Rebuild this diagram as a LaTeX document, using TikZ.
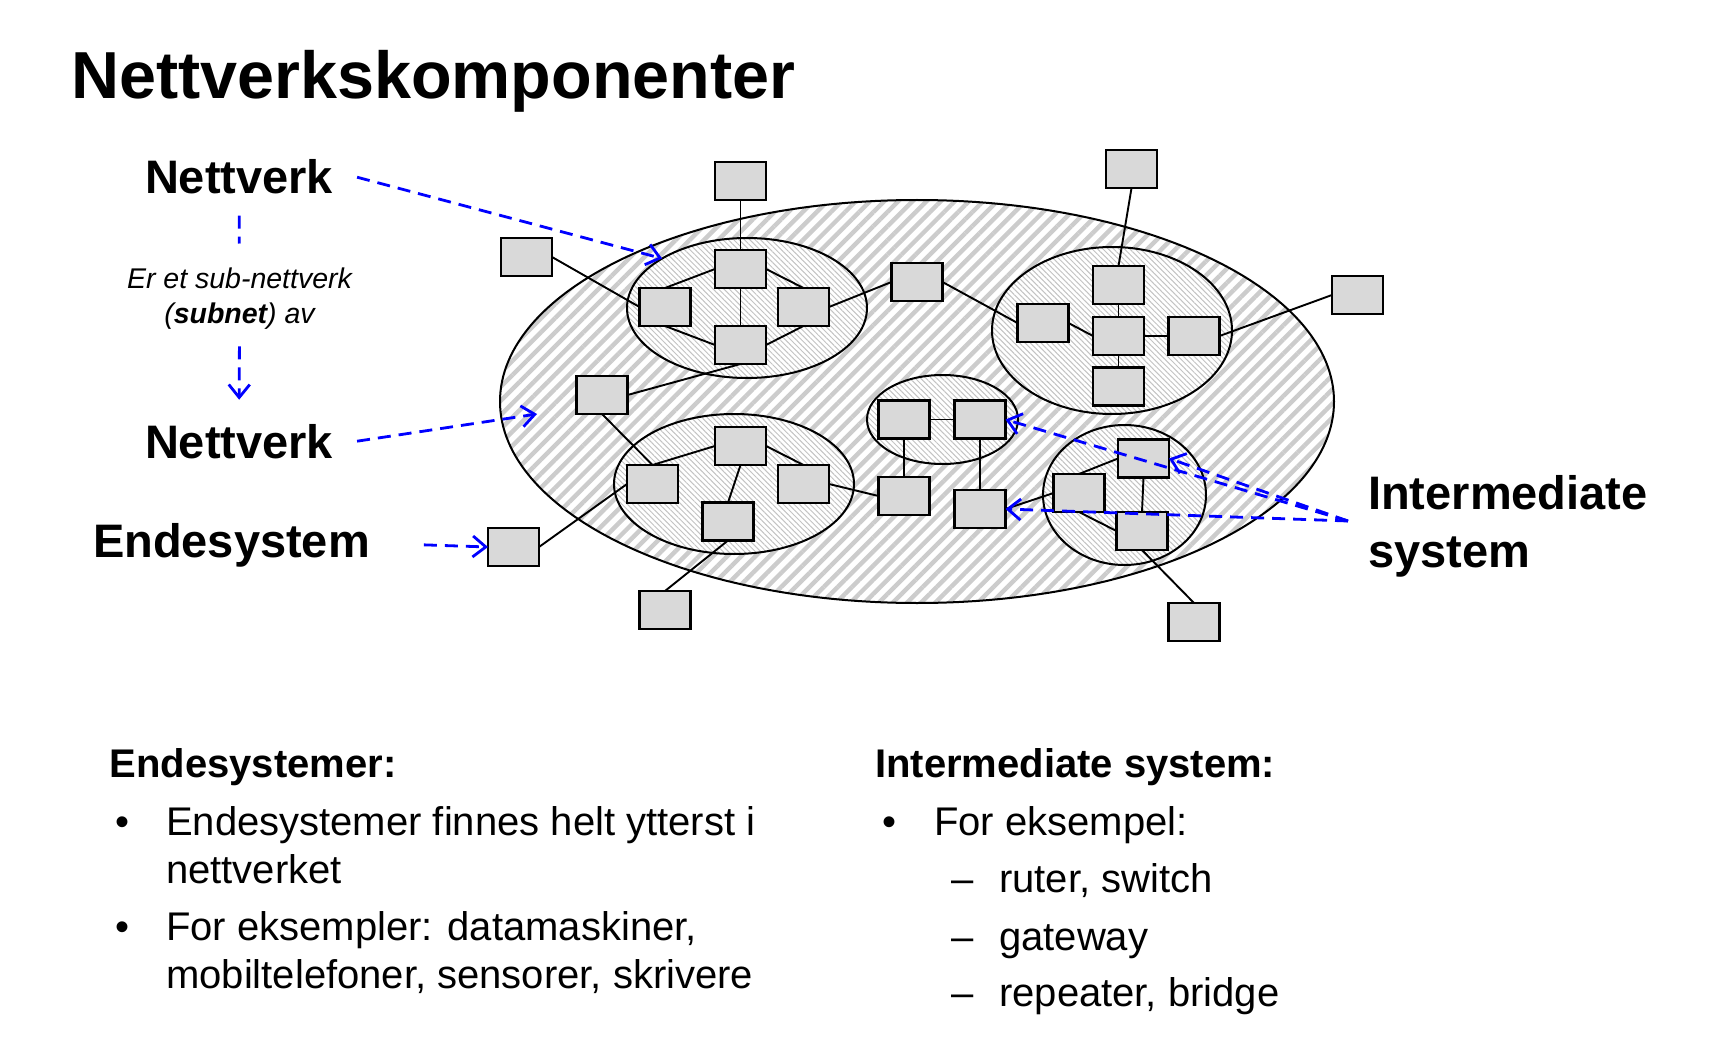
\documentclass[tikz,border=0pt]{standalone}
\usepackage{fontspec}
\setmainfont{Liberation Sans}
\usetikzlibrary{arrows.meta,patterns.meta,shapes.geometric}
\pgfdeclarelayer{ellip}
\pgfdeclarelayer{wires}
\pgfsetlayers{ellip,wires,main}
\definecolor{boxgray}{RGB}{217,217,217}
\definecolor{hatchgray}{RGB}{204,204,204}
\definecolor{finegray}{RGB}{195,195,195}
\definecolor{arrblue}{RGB}{0,0,255}
\begin{document}
\begin{tikzpicture}[x=1pt,y=-1pt,
  dev/.style={draw=black, line width=2.2pt, fill=boxgray, minimum width=51pt, minimum height=38pt, inner sep=0pt, outer sep=0pt},
  wire/.style={draw=black, line width=1.9pt},
  outernet/.style={ellipse, draw=black, line width=2pt, inner sep=0pt, outer sep=0pt, preaction={fill=white}, pattern={Lines[angle=45,distance=10pt,line width=4.4pt]}, pattern color=hatchgray},
  subnet/.style={ellipse, draw=black, line width=2pt, inner sep=0pt, outer sep=0pt, preaction={fill=white}, pattern={Lines[angle=-45,distance=3.8pt,line width=1pt]}, pattern color=finegray},
  bluedash/.style={draw=arrblue, line width=2.8pt, dash pattern=on 13pt off 8pt},
  bluearrow/.style={bluedash, -{Straight Barb[length=13pt,width=21pt]}},
  biglabel/.style={font=\fontsize{47}{58}\selectfont\bfseries, inner sep=0pt},
  body/.style={font=\fontsize{40}{48}\selectfont, anchor=base west, inner sep=0pt},
  head/.style={body, font=\fontsize{40}{48}\selectfont\bfseries}
]
\useasboundingbox (0,0) rectangle (1717,1043);

% ---------- title and labels ----------
\node[anchor=base west, font=\fontsize{66.5}{80}\selectfont\bfseries, inner sep=0pt] (title) at (71,98.5) {Nettverkskomponenter};
\node[biglabel, anchor=base west, outer xsep=24pt] (nt1) at (121,194) {Nettverk};
\node[biglabel, anchor=base west, outer xsep=24pt] (nt2) at (121,458) {Nettverk};
\node[biglabel, anchor=base west, outer xsep=54pt] (endl) at (39,557) {Endesystem};
\node[anchor=north, align=center, inner sep=0pt, font=\fontsize{28.5}{35}\selectfont\itshape] (er) at (239.5,267.5) {Er et sub-nettverk\\(\textbf{subnet}) av};
\node[biglabel, anchor=north west, align=left] (isl) at (1368,475.5) {Intermediate\\system};
\coordinate (isorig) at (1348,521);
\coordinate (tipnet) at (537,414);

% ---------- ellipses ----------
\begin{pgfonlayer}{ellip}
\fill[white] (0,0) rectangle (1717,1043);
\node[outernet, minimum width=834pt, minimum height=403pt] (net) at (917,401.5) {};
\node[subnet, minimum width=240pt, minimum height=140pt] (sn1) at (747,308) {};
\node[subnet, minimum width=240pt, minimum height=167pt] (sn2) at (1112,330.5) {};
\node[subnet, minimum width=240pt, minimum height=140pt] (sn3) at (734,484) {};
\node[subnet, minimum width=151pt, minimum height=89pt] (sn4) at (942.5,419.5) {};
\node[subnet, minimum width=163pt, minimum height=140pt] (sn5) at (1124.5,495) {};
\end{pgfonlayer}

% ---------- devices ----------
\node[dev] (a1) at (740.5,181) {};
\node[dev] (a2) at (526.5,257) {};
\node[dev] (s1t) at (740.5,269) {};
\node[dev] (s1l) at (665,307) {};
\node[dev] (s1r) at (803.5,307) {};
\node[dev] (s1b) at (740.5,345) {};
\node[dev] (m1) at (917,282) {};
\node[dev] (m2) at (602,395) {};

\node[dev] (b1) at (1131.5,169) {};
\node[dev] (b2) at (1357.5,295) {};
\node[dev] (s2t) at (1118.5,285) {};
\node[dev] (s2l) at (1043,323) {};
\node[dev] (s2m) at (1118.5,336) {};
\node[dev] (s2r) at (1194,336) {};
\node[dev] (s2b) at (1118.5,386.5) {};

\node[dev] (s3t) at (740.5,446) {};
\node[dev] (s3l) at (652.5,484) {};
\node[dev] (s3r) at (803.5,484) {};
\node[dev] (s3b) at (728,521.5) {};
\node[dev] (es) at (513.5,547) {};
\node[dev] (c1) at (665,610) {};

\node[dev] (s4l) at (904,419.5) {};
\node[dev] (s4r) at (980,419.5) {};
\node[dev] (d1) at (904,496) {};
\node[dev] (d2) at (980,509) {};

\node[dev] (s5t) at (1143.5,458.5) {};
\node[dev] (s5l) at (1079,493) {};
\node[dev] (s5b) at (1142,531) {};
\node[dev] (e1) at (1194,622) {};

% ---------- wires ----------
\begin{pgfonlayer}{wires}
\draw[wire] (a1.south) -- (s1t.north);
\draw[wire] (a2.east) -- (s1l.west);
\draw[wire] (s1l.north) -- (s1t.west);
\draw[wire] (s1t.east) -- (s1r.north);
\draw[wire] (s1t.south) -- (s1b.north);
\draw[wire] (s1l.south) -- (s1b.west);
\draw[wire] (s1r.south) -- (s1b.east);
\draw[wire] (s1r.east) -- (m1.west);
\draw[wire] (m1.east) -- (s2l.west);
\draw[wire] (s1b.south) -- (m2.east);
\draw[wire] (b1.south) -- (s2t.north);
\draw[wire] (s2t.south) -- (s2m.north);
\draw[wire] (s2l.east) -- (s2m.west);
\draw[wire] (s2m.east) -- (s2r.west);
\draw[wire] (s2m.south) -- (s2b.north);
\draw[wire] (s2r.east) -- (b2.west);
\draw[wire] (m2.south) -- (s3l.north);
\draw[wire] (s3l.north) -- (s3t.west);
\draw[wire] (s3t.east) -- (s3r.north);
\draw[wire] (s3t.south) -- (s3b.north);
\draw[wire] (es.east) -- (s3l.west);
\draw[wire] (c1.north) -- (s3b.south);
\draw[wire] (s3r.east) -- (d1.west);
\draw[wire] (s4l.east) -- (s4r.west);
\draw[wire] (s4l.south) -- (d1.north);
\draw[wire] (s4r.south) -- (d2.north);
\draw[wire] (d2.east) -- (s5l.west);
\draw[wire] (s5l.north) -- (s5t.west);
\draw[wire] (s5t.south) -- (s5b.north);
\draw[wire] (s5l.south) -- (s5b.west);
\draw[wire] (s5b.south) -- (e1.north);
\end{pgfonlayer}

% ---------- blue annotation arrows ----------
\draw[bluearrow] (nt1.east) -- (sn1.north west);
\draw[bluedash, shorten <=21pt, shorten >=24pt] (nt1.south) -- (er.north);
\draw[bluearrow, shorten <=17pt, shorten >=24pt] (er.south) -- (nt2.north);
\draw[bluearrow] (nt2.east) -- (tipnet);
\draw[bluearrow] (endl.east) -- (es.west);
\draw[bluearrow] (isorig) -- (s4r.east);
\draw[bluearrow] (isorig) -- (s5t.east);
\draw[bluearrow] (isorig) -- (d2.east);

% ---------- bottom text ----------
\node[head] (lhead) at (109.5,777) {Endesystemer:};
\node[body] (lb1) at (115,835) {•};
\node[body] (l1a) at (166,835) {Endesystemer finnes helt ytterst i};
\node[body] (l1b) at (166,883) {nettverket};
\node[body] (lb2) at (115,940) {•};
\node[body] (l2a) at (166,940) {For eksempler: datamaskiner,};
\node[body] (l2b) at (166,988) {mobiltelefoner, sensorer, skrivere};

\node[head] (rhead) at (875,777) {Intermediate system:};
\node[body] (rb1) at (882,835) {•};
\node[body] (r1) at (934,835) {For eksempel:};
\node[body] (rd1) at (951,892) {–};
\node[body] (r2) at (999,892) {ruter, switch};
\node[body] (rd2) at (951,950) {–};
\node[body] (r3) at (999,950) {gateway};
\node[body] (rd3) at (951,1006) {–};
\node[body] (r4) at (999,1006) {repeater, bridge};
\end{tikzpicture}
\end{document}
